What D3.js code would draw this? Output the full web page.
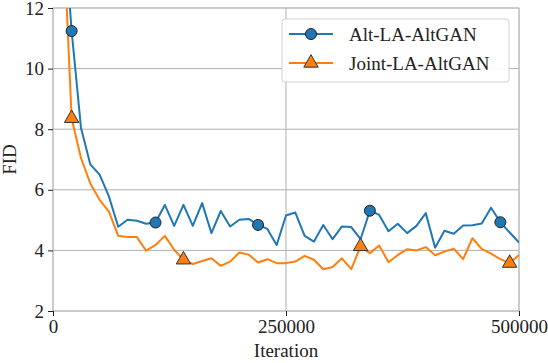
<!DOCTYPE html>
<html><head><meta charset="utf-8">
<script src="https://cdn.jsdelivr.net/npm/d3@7"></script>
<style>body{margin:0;background:#fff} svg text{font-family:"Liberation Serif","DejaVu Serif",serif;}</style>
</head><body><svg id="c" width="548" height="363"></svg>
<script>
const iterations = [10000,20000,30000,40000,50000,60000,70000,80000,90000,100000,110000,120000,130000,140000,150000,160000,170000,180000,190000,200000,210000,220000,230000,240000,250000,260000,270000,280000,290000,300000,310000,320000,330000,340000,350000,360000,370000,380000,390000,400000,410000,420000,430000,440000,450000,460000,470000,480000,490000,500000];
const altFID = [15.4,11.24,8.05,6.84,6.5,5.78,4.78,5.01,4.98,4.88,4.92,5.5,4.81,5.5,4.81,5.56,4.57,5.3,4.79,5.01,5.04,4.84,4.71,4.18,5.15,5.25,4.48,4.29,4.84,4.37,4.79,4.77,4.37,5.31,5.17,4.63,4.88,4.57,4.81,5.23,4.09,4.65,4.55,4.82,4.83,4.89,5.41,4.93,4.59,4.26];
const jointFID = [15.3,8.36,7.05,6.21,5.67,5.28,4.48,4.44,4.44,3.99,4.18,4.48,4.02,3.69,3.55,3.65,3.74,3.49,3.63,3.93,3.86,3.6,3.71,3.58,3.58,3.63,3.82,3.69,3.38,3.45,3.74,3.38,4.13,3.91,4.16,3.61,3.85,4.04,4.0,4.11,3.84,3.96,4.06,3.71,4.4,4.05,3.89,3.71,3.58,3.85];
const altMarkers = [20000,110000,220000,340000,480000];
const jointMarkers = [20000,140000,330000,490000];
const seriesNames = ["Alt-LA-AltGAN","Joint-LA-AltGAN"];
const xTicks = [0,250000,500000];
const yTicks = [2,4,6,8,10,12];

const svg = d3.select("#c");
const L=53, R=519, T=8, B=311;
const x = d3.scaleLinear().domain([0,500000]).range([L,R]);
const y = d3.scaleLinear().domain([2,12]).range([B,T]);
const grid = "#b0b0b0";

svg.append("g").selectAll("line").data(yTicks).join("line")
  .attr("x1",L).attr("x2",R).attr("y1",d=>y(d)).attr("y2",d=>y(d))
  .attr("stroke",grid).attr("stroke-width",1);
svg.append("g").selectAll("line").data(xTicks).join("line")
  .attr("y1",T).attr("y2",B).attr("x1",d=>x(d)).attr("x2",d=>x(d))
  .attr("stroke",grid).attr("stroke-width",1);
svg.append("rect").attr("x",L).attr("y",T).attr("width",R-L).attr("height",B-T)
  .attr("fill","none").attr("stroke","#c0c0c0").attr("stroke-width",1);

const xAxis = svg.append("g").attr("transform",`translate(0,${B})`)
  .call(d3.axisBottom(x).tickValues(xTicks).tickFormat(d3.format("d")).tickSize(5).tickPadding(4));
const yAxis = svg.append("g").attr("transform",`translate(${L},0)`)
  .call(d3.axisLeft(y).tickValues(yTicks).tickSize(5).tickPadding(4));
[xAxis,yAxis].forEach(a=>{
  a.attr("font-family",null);
  a.select(".domain").remove();
  a.selectAll(".tick line").attr("stroke","#222").attr("stroke-width",1);
  a.selectAll("text").attr("font-size",19).attr("fill","#222");
});

svg.append("text").attr("x",(L+R)/2).attr("y",357).attr("text-anchor","middle")
  .attr("font-size",19).attr("fill","#222").text("Iteration");
svg.append("text").attr("transform",`translate(16,${(T+B)/2}) rotate(-90)`).attr("text-anchor","middle")
  .attr("font-size",19).attr("fill","#222").text("FID");

svg.append("clipPath").attr("id","clip").append("rect").attr("x",L).attr("y",T).attr("width",R-L).attr("height",B-T);
const plot = svg.append("g").attr("clip-path","url(#clip)");

const colors = ["#1f77b4","#ff7f0e"];
const line = d3.line().x(d=>x(d[0])).y(d=>y(d[1]));
const altData = iterations.map((it,i)=>[it,altFID[i]]);
const jointData = iterations.map((it,i)=>[it,jointFID[i]]);
plot.append("path").datum(altData).attr("d",line).attr("fill","none").attr("stroke",colors[0]).attr("stroke-width",2).attr("stroke-linejoin","round");
plot.append("path").datum(jointData).attr("d",line).attr("fill","none").attr("stroke",colors[1]).attr("stroke-width",2).attr("stroke-linejoin","round");

const tri = d3.symbol().type(d3.symbolTriangle).size(90);
function triMarker(g, cx, cy){
  g.append("path").attr("d",tri()).attr("transform",`translate(${cx},${cy})`)
    .attr("fill",colors[1]).attr("stroke","#333").attr("stroke-width",1);
}
function circMarker(g, cx, cy){
  g.append("circle").attr("cx",cx).attr("cy",cy).attr("r",5.5)
    .attr("fill",colors[0]).attr("stroke","#222").attr("stroke-width",1);
}
altMarkers.forEach(m=>{const i=iterations.indexOf(m); circMarker(plot,x(m),y(altFID[i]));});
jointMarkers.forEach(m=>{const i=iterations.indexOf(m); triMarker(plot,x(m),y(jointFID[i]));});

const lg = svg.append("g");
lg.append("rect").attr("x",282).attr("y",19).attr("width",227).attr("height",63).attr("rx",3)
  .attr("fill","#fff").attr("fill-opacity",0.9).attr("stroke","#d0d0d0").attr("stroke-width",1);
[[34,0],[63,1]].forEach(([ly,k])=>{
  lg.append("line").attr("x1",289).attr("x2",333).attr("y1",ly).attr("y2",ly).attr("stroke",colors[k]).attr("stroke-width",2);
  if(k===0) circMarker(lg,311,ly); else triMarker(lg,311,ly);
  lg.append("text").attr("x",349).attr("y",ly+6.5).attr("font-size",19).attr("fill","#222").text(seriesNames[k]);
});
</script></body></html>
